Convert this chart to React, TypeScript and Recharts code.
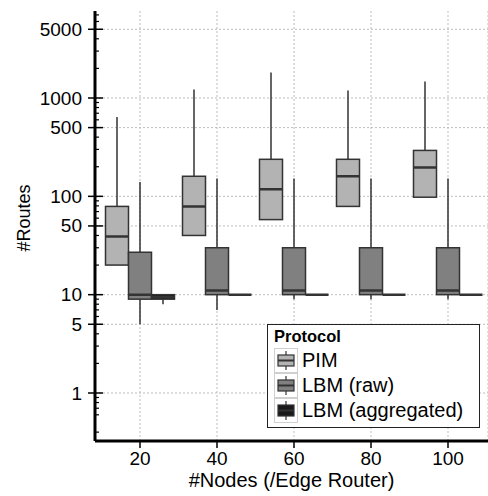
import React from "react";
import {
  Bar,
  CartesianGrid,
  ComposedChart,
  Legend,
  XAxis,
  YAxis,
} from "recharts";

const nodes = [20, 40, 60, 80, 100];

const pimMin = [20, 40, 58, 79, 98];
const pimQ1 = [20, 40, 58, 79, 98];
const pimMed = [39, 79, 118, 160, 197];
const pimQ3 = [79, 160, 238, 238, 293];
const pimMax = [640, 1220, 1815, 1190, 1470];

const rawMin = [5, 7, 9, 9, 9];
const rawQ1 = [9, 10, 10, 10, 10];
const rawMed = [10, 11, 11, 11, 11];
const rawQ3 = [27, 30, 30, 30, 30];
const rawMax = [140, 152, 152, 152, 152];

const aggMin = [8, 10, 10, 10, 10];
const aggQ1 = [9, 10, 10, 10, 10];
const aggMed = [9.4, 10, 10, 10, 10];
const aggQ3 = [10, 10, 10, 10, 10];
const aggMax = [10, 10, 10, 10, 10];

const majorTicks = [1, 5, 10, 50, 100, 500, 1000, 5000];
const minorTicks = [
  0.4, 0.6, 0.7, 0.8, 0.9, 2, 3, 4, 6, 7, 8, 9, 20, 30, 40, 60, 70, 80, 90,
  200, 300, 400, 600, 700, 800, 900, 2000, 3000, 4000, 6000, 7000,
];

const series = [
  { key: "pim", name: "PIM", fill: "#b3b3b3", min: pimMin, q1: pimQ1, med: pimMed, q3: pimQ3, max: pimMax },
  { key: "raw", name: "LBM (raw)", fill: "#808080", min: rawMin, q1: rawQ1, med: rawMed, q3: rawQ3, max: rawMax },
  { key: "agg", name: "LBM (aggregated)", fill: "#1a1a1a", min: aggMin, q1: aggQ1, med: aggMed, q3: aggQ3, max: aggMax },
];

const rows = nodes.map((n, i) => {
  const r: any = { n };
  series.forEach((s) => {
    r[s.key] = { min: s.min[i], q1: s.q1[i], med: s.med[i], q3: s.q3[i], max: s.max[i] };
  });
  return r;
});

const FONT = "'Liberation Sans', Arial, Helvetica, sans-serif";
const EDGE = "#333";
const pad = { left: 6.5, right: 1.5 };

const Whisker = (props: any) => {
  const { x, y, width, height } = props;
  const cx = x + width / 2;
  const top = Math.min(y, y + height);
  const bottom = Math.max(y, y + height);
  return <line x1={cx} x2={cx} y1={top} y2={bottom} stroke={EDGE} strokeWidth={1.5} />;
};

const BoxShape = (props: any) => {
  const { x, y, width, height, fill } = props;
  const top = Math.min(y, y + height);
  return (
    <rect x={x} y={top} width={width} height={Math.abs(height)} fill={fill} stroke={EDGE} strokeWidth={1.5} />
  );
};

const MedianShape = (props: any) => {
  const { x, y, width } = props;
  return <line x1={x} x2={x + width} y1={y} y2={y} stroke={EDGE} strokeWidth={2.5} />;
};

const YTick = (props: any) => {
  const { x, y, payload } = props;
  const v = payload.value;
  if (!majorTicks.includes(v)) {
    return <line x1={x} x2={x + 4} y1={y} y2={y} stroke="#000" strokeWidth={1.2} />;
  }
  return (
    <g>
      <line x1={x - 7} x2={x + 8} y1={y} y2={y} stroke="#000" strokeWidth={1.5} />
      <text x={x - 13} y={y} textAnchor="end" dominantBaseline="central" fontSize={19} fill="#000">
        {v}
      </text>
    </g>
  );
};

const LegendIcon = ({ fill }: { fill: string }) => (
  <svg width={24} height={25} style={{ display: "block" }}>
    <rect x={0.5} y={0.5} width={23} height={24} fill="#fff" stroke="#d0d0d0" />
    <line x1={12} x2={12} y1={3} y2={22} stroke={EDGE} strokeWidth={1.2} />
    <rect x={4} y={7} width={16} height={11} fill={fill} stroke={EDGE} strokeWidth={1.2} />
    <line x1={4} x2={20} y1={12.5} y2={12.5} stroke={EDGE} strokeWidth={2} />
  </svg>
);

const LegendBox = () => (
  <div
    style={{
      border: "1.5px solid #222",
      background: "#fff",
      width: 213,
      height: 104,
      boxSizing: "border-box",
      padding: "1px 0 0 6px",
      fontFamily: FONT,
      color: "#000",
    }}
  >
    <div style={{ fontWeight: "bold", fontSize: 16.5, lineHeight: "20px", marginBottom: 2 }}>Protocol</div>
    {series.map((s) => (
      <div key={s.key} style={{ display: "flex", alignItems: "center", height: 25 }}>
        <LegendIcon fill={s.fill} />
        <span style={{ fontSize: 20, marginLeft: 4, lineHeight: "25px" }}>{s.name}</span>
      </div>
    ))}
  </div>
);

export default function App() {
  return (
    <div style={{ position: "absolute", left: 0, top: 0, fontFamily: FONT, background: "#fff" }}>
      <ComposedChart
        width={488}
        height={496}
        data={rows}
        margin={{ top: 11, right: 0, left: 0, bottom: 0 }}
        barCategoryGap={4}
        barGap={0}
      >
        <CartesianGrid
          xAxisId="whisker"
          vertical
          horizontalValues={majorTicks}
          stroke="#bdbdbd"
          strokeDasharray="2 2"
        />
        <XAxis
          xAxisId="whisker"
          dataKey="n"
          padding={pad}
          height={55}
          tickSize={7}
          tickMargin={4}
          tickLine={{ stroke: "#000", strokeWidth: 1.5 }}
          axisLine={{ stroke: "#000", strokeWidth: 3 }}
          tick={{ fill: "#000", fontSize: 19 }}
          label={{
            content: (p: any) => (
              <text
                x={p.viewBox.x + p.viewBox.width / 2}
                y={487}
                textAnchor="middle"
                fontSize={20}
                fill="#000"
              >
                #Nodes (/Edge Router)
              </text>
            ),
          }}
        />
        <XAxis xAxisId="top" dataKey="n" orientation="top" padding={pad} height={0} tick={false} tickLine={false} axisLine={{ stroke: "#000", strokeWidth: 3 }} />
        <XAxis xAxisId="box" dataKey="n" orientation="top" padding={pad} height={0} hide />
        <XAxis xAxisId="median" dataKey="n" orientation="top" padding={pad} height={0} hide />
        <YAxis
          scale="log"
          domain={[0.325, 7670]}
          allowDataOverflow
          ticks={[...majorTicks, ...minorTicks]}
          interval={0}
          width={95}
          tickSize={0}
          tickMargin={0}
          tickLine={false}
          tick={<YTick />}
          axisLine={{ stroke: "#000", strokeWidth: 3 }}
          label={{
            content: () => (
              <text
                x={24}
                y={218}
                transform="rotate(-90 24 218)"
                textAnchor="middle"
                dominantBaseline="central"
                fontSize={18}
                fill="#000"
              >
                #Routes
              </text>
            ),
          }}
        />
        {series.map((s) => (
          <Bar
            key={s.key + "-w"}
            xAxisId="whisker"
            dataKey={(d: any) => [d[s.key].min, d[s.key].max]}
            shape={Whisker}
            legendType="none"
            isAnimationActive={false}
          />
        ))}
        {series.map((s) => (
          <Bar
            key={s.key + "-b"}
            xAxisId="box"
            name={s.name}
            fill={s.fill}
            dataKey={(d: any) => [d[s.key].q1, d[s.key].q3]}
            shape={BoxShape}
            isAnimationActive={false}
          />
        ))}
        {series.map((s) => (
          <Bar
            key={s.key + "-m"}
            xAxisId="median"
            dataKey={(d: any) => [d[s.key].med, d[s.key].med]}
            shape={MedianShape}
            legendType="none"
            isAnimationActive={false}
          />
        ))}
        <Legend
          layout="vertical"
          align="center"
          verticalAlign="middle"
          wrapperStyle={{ left: 267, top: 324, width: 213 }}
          content={() => <LegendBox />}
        />
      </ComposedChart>
    </div>
  );
}
